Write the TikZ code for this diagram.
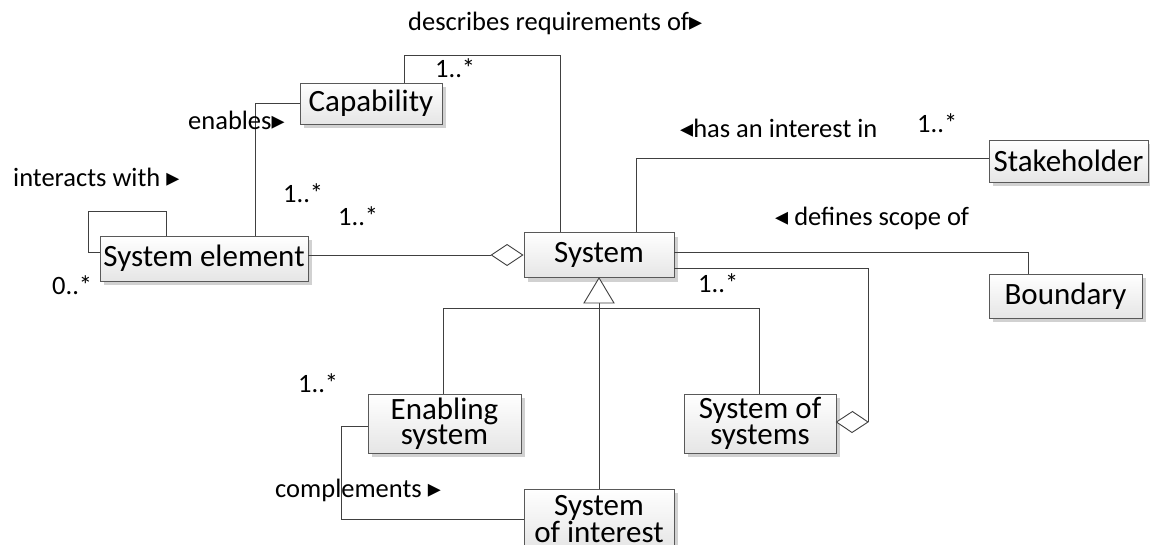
\documentclass[tikz,border=0pt]{standalone}
\usepackage{fontspec}
\setmainfont{Carlito}
\newfontfamily\symf{DejaVu Sans}
\usetikzlibrary{shadows,arrows.meta,calc}
\newcommand{\rt}{{\symf\fontsize{26}{26}\selectfont ▸}}
\newcommand{\lt}{{\symf\fontsize{26}{26}\selectfont ◂}}
\tikzset{
  cls/.style={draw=black!65, line width=0.9pt, top color=white, bottom color=black!10,
    drop shadow={shadow xshift=4pt, shadow yshift=-4pt, fill=black!18, opacity=1},
    inner sep=0pt, align=center, font=\fontsize{31}{25.5}\selectfont},
  lbl/.style={inner sep=0pt, anchor=west, font=\fontsize{26.5}{28}\selectfont},
  conn/.style={draw=black!75, line width=0.9pt},
}
\begin{document}
\begin{tikzpicture}[x=1pt,y=-1pt]
\useasboundingbox (0,0) rectangle (1150,544);
% classes
\node[cls, minimum width=142pt, minimum height=41pt] (cap) at (371,103.5) {Capability};
\node[cls, minimum width=208pt, minimum height=45pt] (se) at (204,258.5) {System element};
\node[cls, minimum width=150pt, minimum height=45pt] (sys) at (599,255) {System};
\node[cls, minimum width=159pt, minimum height=42pt] (sh) at (1068.5,161) {Stakeholder};
\node[cls, minimum width=153pt, minimum height=44pt] (bd) at (1065.5,296) {Boundary};
\node[cls, minimum width=153pt, minimum height=59pt] (es) at (444.5,423.5) {Enabling\\system};
\node[cls, minimum width=152pt, minimum height=59pt] (sos) at (760,423.5) {System of\\systems};
\node[cls, minimum width=150pt, minimum height=60pt] (soi) at (599,519) {System\\of interest};
% describes requirements of
\coordinate (d1) at (404,55);
\coordinate (d2) at (560,55);
\draw[conn] (cap.north -| d1) -- (d1) -- (d2) -- (sys.north -| d2);
% enables
\coordinate (e1) at (255,103.5);
\draw[conn] (cap.west) -- (e1) -- (se.north -| e1);
% interacts with (self loop)
\coordinate (l1) at (88,252);
\coordinate (l2) at (88,211);
\coordinate (l3) at (166,211);
\draw[conn] (se.west |- l1) -- (l1) -- (l2) -- (l3) -- (se.north -| l3);
% aggregation system element -> system
\draw[conn, -{Diamond[open, fill=white, length=33pt, width=22pt, line width=0.9pt]}] (se.east |- sys.west) -- (sys.west);
% has an interest in
\coordinate (s1) at (636,158);
\draw[conn] (sys.north -| s1) -- (s1) -- (sh.west |- s1);
% defines scope of
\coordinate (b1) at (1028,252);
\draw[conn] (sys.east |- b1) -- (b1) -- (bd.north -| b1);
% system of systems aggregation
\coordinate (a1) at (868,268);
\coordinate (a2) at (868,422);
\draw[conn] (sys.east |- a1) -- (a1) -- (a2);
\draw[conn, fill=white] (sos.east |- a2) -- ++(16,-10.5) -- (a2) -- ++(-16,10.5) -- cycle;
% generalization
\coordinate (g1) at (443,308);
\coordinate (g2) at (759,308);
\coordinate (gb) at (599,303);
\draw[conn] (gb) -- (soi.north);
\draw[conn] (es.north -| g1) -- (g1) -- (g2) -- (sos.north -| g2);
\draw[conn, fill=white] (sys.south) -- ($(gb)+(-15,0)$) -- ($(gb)+(15,0)$) -- cycle;
% complements
\coordinate (c1) at (341,426);
\coordinate (c2) at (341,519);
\draw[conn] (es.west |- c1) -- (c1) -- (c2) -- (soi.west |- c2);
% labels
\node[lbl] (t1) at (408,23) {describes requirements of\rt};
\node[lbl] (m1) at (435,68) {1..*};
\node[lbl] (t2) at (188,120) {enables\rt};
\node[lbl] (t3) at (13,177) {interacts with \rt};
\node[lbl] (m2) at (283,193) {1..*};
\node[lbl] (m3) at (338,216) {1..*};
\node[lbl] (m4) at (52,285) {0..*};
\node[lbl] (t4) at (680,128) {\lt has an interest in};
\node[lbl] (m5) at (917,123) {1..*};
\node[lbl] (t5) at (775,218) {\lt\ defines scope of};
\node[lbl] (m6) at (698,283) {1..*};
\node[lbl] (m7) at (298,383) {1..*};
\node[lbl] (t6) at (275,490) {complements \rt};
\end{tikzpicture}
\end{document}
